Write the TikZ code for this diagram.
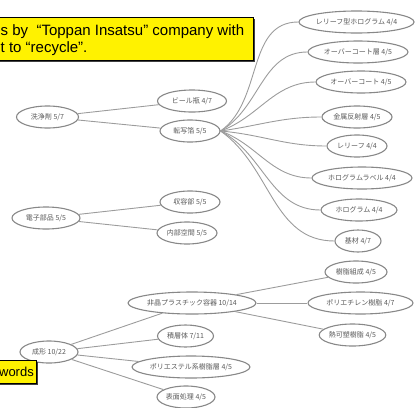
\documentclass[tikz,border=0pt]{standalone}
\usepackage{fontspec}
\setmainfont{Liberation Sans}
\newfontfamily\jpfont{Noto Sans CJK JP}
\usetikzlibrary{shapes.geometric}
\definecolor{edgegray}{HTML}{9C9C9C}
\definecolor{ringgray}{HTML}{888888}
\definecolor{txtgray}{HTML}{5A5A5A}
\begin{document}
\begin{tikzpicture}[x=1pt,y=-1pt,
  kw/.style={ellipse, draw=ringgray, line width=1.1pt, fill=white, inner sep=0pt,
    minimum height=22pt, font=\jpfont\fontsize{7}{8}\selectfont, text=txtgray},
  link/.style={draw=edgegray, line width=0.9pt},
  callout/.style={fill=yellow, draw=black, line width=1.3pt},
  calloutshadow/.style={fill=black!75, draw=none},
  callouttext/.style={inner sep=0pt, font=\fontsize{15}{17}\selectfont}]
\useasboundingbox (0,0) rectangle (415,407);
\clip (0,0) rectangle (415,407);

% group 1
\node[kw, minimum width=62pt] (A) at (47.5,117) {洗浄剤 5/7};
\node[kw, minimum width=69pt] (B) at (192,101) {ビール瓶 4/7};
\node[kw, minimum width=60pt] (C) at (190,131) {転写箔 5/5};
\node[kw, minimum width=113pt] (R1) at (356.5,22) {レリーフ型ホログラム 4/4};
\node[kw, minimum width=100pt] (R2) at (358,52) {オーバーコート層 4/5};
\node[kw, minimum width=90pt] (R3) at (361,82) {オーバーコート 4/5};
\node[kw, minimum width=70pt] (R4) at (357,117) {金属反射層 4/5};
\node[kw, minimum width=60pt] (R5) at (357,146) {レリーフ 4/4};
\node[kw, minimum width=100pt] (R6) at (362,178) {ホログラムラベル 4/4};
\node[kw, minimum width=76pt] (R7) at (359,210) {ホログラム 4/4};
\node[kw, minimum width=46pt] (R8) at (358,241) {基材 4/7};

\draw[link] (A) -- (B);
\draw[link] (A) -- (C);
\draw[link] (C.east) to[out=35,in=180] (R1);
\draw[link] (C.east) to[out=30,in=180] (R2);
\draw[link] (C.east) to[out=20,in=180] (R3);
\draw[link] (C.east) to[out=8,in=180] (R4);
\draw[link] (C.east) to[out=-5,in=180] (R5);
\draw[link] (C.east) to[out=-20,in=180] (R6);
\draw[link] (C.east) to[out=-28,in=180] (R7);
\draw[link] (C.east) to[out=-35,in=180] (R8);

% group 2
\node[kw, minimum width=68pt] (H) at (46,218) {電子部品 5/5};
\node[kw, minimum width=60pt] (H1) at (190,202) {収容部 5/5};
\node[kw, minimum width=60pt] (H2) at (187,233) {内部空間 5/5};
\draw[link] (H) -- (H1);
\draw[link] (H) -- (H2);

% group 3
\node[kw, minimum width=58pt] (P) at (49,352) {成形 10/22};
\node[kw, minimum width=128pt] (K1) at (192,303) {非晶プラスチック容器 10/14};
\node[kw, minimum width=56pt] (K2) at (185.5,336) {積層体 7/11};
\node[kw, minimum width=118pt] (K3) at (191,367) {ポリエステル系樹脂層 4/5};
\node[kw, minimum width=58pt] (K4) at (186,397) {表面処理 4/5};
\node[kw, minimum width=62pt] (G1) at (356,272) {樹脂組成 4/5};
\node[kw, minimum width=105pt] (G2) at (360.5,303) {ポリエチレン樹脂 4/7};
\node[kw, minimum width=62pt] (G3) at (352.5,335) {熱可塑樹脂 4/5};
\draw[link] (P) -- (K1);
\draw[link] (P) -- (K2);
\draw[link] (P) -- (K3);
\draw[link] (P) -- (K4);
\draw[link] (K1) -- (G1);
\draw[link] (K1) -- (G2);
\draw[link] (K1) -- (G3);

% callouts
\node[calloutshadow, anchor=north east, minimum width=280pt, minimum height=43pt, inner sep=0pt] (note1s) at (255.5,18.5) {};
\node[callout, anchor=north east, minimum width=280pt, minimum height=43pt, inner sep=0pt] (note1) at (254,17) {};
\node[callouttext, anchor=base west] (note1a) at (0.5,35) {s by \ “Toppan Insatsu” company with};
\node[callouttext, anchor=base west] (note1b) at (0.5,52) {t to “recycle”.};
\node[calloutshadow, anchor=north east, minimum width=60pt, minimum height=23pt, inner sep=0pt] (note2s) at (38.5,361.5) {};
\node[callout, anchor=north east, minimum width=60pt, minimum height=23pt, inner sep=0pt] (note2) at (37,360) {};
\node[callouttext, anchor=base east, font=\fontsize{13}{15}\selectfont] (note2a) at (34,376) {words};
\end{tikzpicture}
\end{document}
